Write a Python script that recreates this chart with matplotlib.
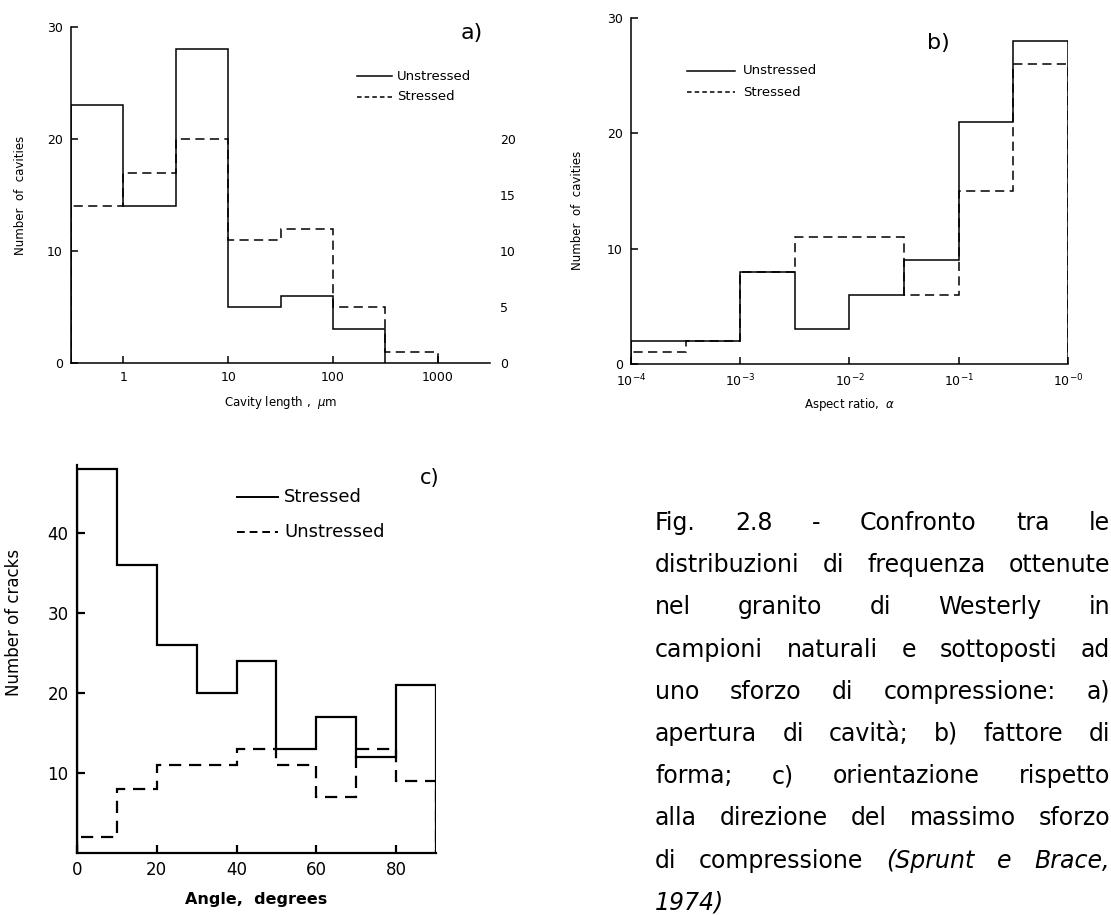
import numpy as np
import matplotlib
matplotlib.use("Agg")
import matplotlib.pyplot as plt
from matplotlib.lines import Line2D
from matplotlib.ticker import FixedLocator, FixedFormatter, NullLocator

W, H = 1111, 915

# ---- panel a: cavity length (log bins, half decade) ----
a_edges_exp = [-0.5, 0, 0.5, 1, 1.5, 2, 2.5]
a_unstressed = [23, 14, 28, 5, 6, 3]
a_edges_exp_s = [-0.5, 0, 0.5, 1, 1.5, 2, 2.5, 3]
a_stressed = [14, 17, 20, 11, 12, 5, 1]
a_xticks = [1, 10, 100, 1000]
a_xticklabels = ["1", "10", "100", "1000"]

# ---- panel b: aspect ratio ----
b_edges_exp = [-4, -3.5, -3, -2.5, -2, -1.5, -1, -0.5, 0]
b_unstressed = [2, 2, 8, 3, 6, 9, 21, 28]
b_stressed = [1, 2, 8, 11, 11, 6, 15, 26]
b_xticks = [1e-4, 1e-3, 1e-2, 1e-1, 1]
b_xticklabels = [r"10$^{-4}$", r"10$^{-3}$", r"10$^{-2}$", r"10$^{-1}$", r"10$^{-0}$"]

# ---- panel c: angle ----
c_edges = [0, 10, 20, 30, 40, 50, 60, 70, 80, 90]
c_stressed = [48, 36, 26, 20, 24, 13, 17, 12, 21]
c_unstressed = [2, 8, 11, 11, 13, 11, 7, 13, 9]

caption_lines = [
    "Fig.  2.8  -  Confronto  tra  le",
    "distribuzioni di frequenza ottenute",
    "nel  granito  di  Westerly  in",
    "campioni naturali e sottoposti ad",
    "uno sforzo di compressione: a)",
    "apertura di cavità; b) fattore di",
    "forma; c) orientazione rispetto",
    "alla direzione del massimo sforzo",
    "di compressione (Sprunt e Brace,",
    "1974)",
]


def fx(x):
    return x / W


def fy(y):
    return 1 - y / H


def axes_rect(x0, y0, x1, y1):
    return [fx(x0), fy(y1), (x1 - x0) / W, (y1 - y0) / H]


def style_axes(ax, lw, fs, tick_len=5):
    for s in ["top", "right"]:
        ax.spines[s].set_visible(False)
    for s in ["left", "bottom"]:
        ax.spines[s].set_linewidth(lw)
    ax.tick_params(direction="in", length=tick_len, width=lw, labelsize=fs, pad=6)


def legend_pair(x0, x1, xt, ys, labels, styles, lw, fs):
    for y, lab, ls in zip(ys, labels, styles):
        fig.add_artist(Line2D([fx(x0), fx(x1)], [fy(y), fy(y)], color="black",
                              lw=lw, linestyle=ls))
        fig.text(fx(xt), fy(y), lab, fontsize=fs, va="center", ha="left")


fig = plt.figure(figsize=(W / 100, H / 100), dpi=100)
plt.rcParams["font.family"] = ["DejaVu Sans"]

dash_ab = (0, (6, 3.5))
dash_c = (0, (5.5, 3.5))

# ---------------- panel a ----------------
ax1 = fig.add_axes(axes_rect(71, 27, 490, 363))
ax1.stairs(a_unstressed, 10 ** np.array(a_edges_exp), color="black", lw=1.1)
ax1.stairs(a_stressed, 10 ** np.array(a_edges_exp_s), color="black", lw=1.1,
           linestyle=dash_ab)
ax1.set_xscale("log")
ax1.set_xlim(10 ** -0.5, 10 ** 3.5)
ax1.set_ylim(0, 30)
ax1.xaxis.set_major_locator(FixedLocator(a_xticks))
ax1.xaxis.set_major_formatter(FixedFormatter(a_xticklabels))
ax1.xaxis.set_minor_locator(NullLocator())
ax1.set_yticks([0, 10, 20, 30])
style_axes(ax1, 1.1, 9)
ax1.set_xlabel("Cavity length ,  $\\mu$m", fontsize=8.5, labelpad=7)
ax1.set_ylabel("Number  of  cavities", fontsize=8.5)
ax1.yaxis.set_label_coords(-0.105, 0.5)
ax1r = ax1.twinx()
ax1r.set_ylim(0, 30)
ax1r.set_yticks([0, 5, 10, 15, 20])
for s in ax1r.spines.values():
    s.set_visible(False)
ax1r.tick_params(length=0, labelsize=9, pad=7)
fig.text(fx(472), fy(33), "a)", fontsize=16, ha="center", va="center")
legend_pair(357, 392, 397, [76, 97], ["Unstressed", "Stressed"],
            ["-", (0, (3, 2))], 1.1, 9.5)

# ---------------- panel b ----------------
ax2 = fig.add_axes(axes_rect(631, 18, 1068, 364))
ax2.stairs(b_unstressed, 10 ** np.array(b_edges_exp), color="black", lw=1.1)
ax2.stairs(b_stressed, 10 ** np.array(b_edges_exp), color="black", lw=1.1,
           linestyle=dash_ab)
ax2.set_xscale("log")
ax2.set_xlim(1e-4, 1)
ax2.set_ylim(0, 30)
ax2.xaxis.set_major_locator(FixedLocator(b_xticks))
ax2.xaxis.set_major_formatter(FixedFormatter(b_xticklabels))
ax2.xaxis.set_minor_locator(NullLocator())
ax2.set_yticks([0, 10, 20, 30])
style_axes(ax2, 1.1, 9)
ax2.set_xlabel("Aspect ratio,  $\\alpha$", fontsize=8.5, labelpad=5)
ax2.set_ylabel("Number  of  cavities", fontsize=8.5)
ax2.yaxis.set_label_coords(-0.107, 0.445)
fig.text(fx(938), fy(43), "b)", fontsize=16, ha="center", va="center")
legend_pair(687, 735, 743, [71, 92], ["Unstressed", "Stressed"],
            ["-", (0, (3, 2))], 1.1, 9.5)

# ---------------- panel c ----------------
ax3 = fig.add_axes(axes_rect(77, 465, 436, 853))
ax3.stairs(c_stressed, c_edges, color="black", lw=1.6)
ax3.stairs(c_unstressed, c_edges, color="black", lw=1.6, linestyle=dash_c)
ax3.set_xlim(0, 90)
ax3.set_ylim(0, 48.5)
ax3.set_xticks([0, 20, 40, 60, 80])
ax3.set_yticks([10, 20, 30, 40])
style_axes(ax3, 1.6, 12, tick_len=6)
ax3.set_xlabel("Angle,  degrees", fontsize=11.5, fontweight="bold", labelpad=9)
ax3.set_ylabel("Number of cracks", fontsize=12)
ax3.yaxis.set_label_coords(-0.15, 0.593)
fig.text(fx(430), fy(478), "c)", fontsize=15, ha="center", va="center")
legend_pair(237, 278, 284, [497, 532], ["Stressed", "Unstressed"],
            ["-", (0, (4, 2.5))], 1.4, 13)

# ---------------- caption (justified) ----------------
renderer = fig.canvas.get_renderer()
x_left, x_right = 655, 1110
y0, dy = 523, 42.2
fs_cap = 17
for i, line in enumerate(caption_lines):
    words = line.split()
    y = y0 + i * dy
    texts = []
    for j, w in enumerate(words):
        it = w in ("(Sprunt", "Brace,", "1974)") or (i == 8 and w == "e")
        t = fig.text(0, fy(y), w, fontsize=fs_cap, va="center", ha="left",
                     style="italic" if it else "normal")
        texts.append(t)
    widths = [t.get_window_extent(renderer).width for t in texts]
    if i == len(caption_lines) - 1 or len(words) == 1:
        gap = 10
    else:
        gap = (x_right - x_left - sum(widths)) / (len(words) - 1)
    x = x_left
    for t, wd in zip(texts, widths):
        t.set_x(fx(x))
        x += wd + gap

fig.savefig("out.png", dpi=100)
